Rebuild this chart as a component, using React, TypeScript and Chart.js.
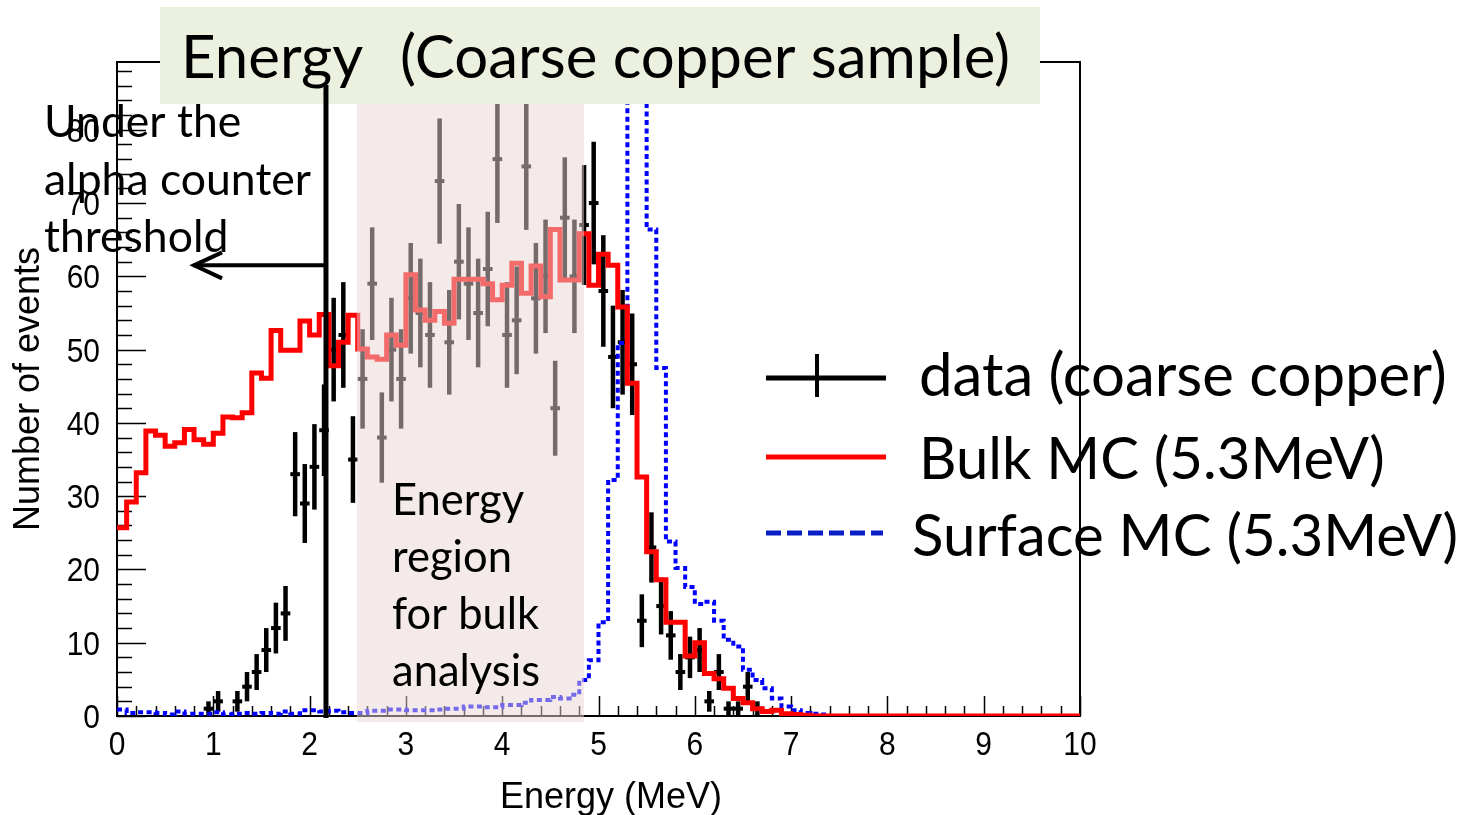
import { useEffect, useRef } from "react";
import { Chart, registerables } from "chart.js";

Chart.register(...registerables);

// ---- data -------------------------------------------------------------
const BIN_WIDTH = 0.1; // MeV
const X_MIN = 0;
const X_MAX = 10;
const Y_MAX = 89.25;

// Bulk MC (5.3 MeV), 100 bins of 0.1 MeV from 0 to 10 MeV
const bulkMC = [
  25.7, 29.2, 33.2, 38.9, 38.3, 36.8, 37.3, 39.1, 37.7, 37.1,
  38.6, 40.8, 40.7, 41.4, 46.8, 46.1, 52.6, 49.9, 49.9, 53.9,
  52.0, 54.8, 47.8, 51.0, 54.7, 50.1, 49.0, 48.7, 52.0, 50.6,
  60.2, 55.4, 54.0, 55.2, 53.6, 59.6, 59.6, 59.6, 59.0, 56.8,
  58.8, 61.8, 57.7, 61.4, 57.2, 66.4, 59.5, 59.5, 65.8, 58.8,
  63.0, 61.5, 55.8, 45.4, 32.6, 22.4, 18.6, 12.8, 12.8, 8.2,
  10.0, 5.8, 5.1, 3.8, 2.4, 1.8, 1.0, 0.6, 0.8, 0.3,
  0.2, 0.1, 0, 0, 0, 0, 0, 0, 0, 0,
  0, 0, 0, 0, 0, 0, 0, 0, 0, 0,
  0, 0, 0, 0, 0, 0, 0, 0, 0, 0,
];

// Surface MC (5.3 MeV), same binning
const surfaceMC = [
  0.9, 0.4, 0.5, 0.5, 0.4, 0.2, 0.6, 0.3, 0.3, 0.3,
  0.5, 0.2, 0.3, 0.4, 0.3, 0.4, 0.3, 0.6, 0.3, 0.8,
  0.8, 0.6, 0.7, 0.5, 0.4, 0.4, 0.7, 0.7, 0.9, 0.9,
  0.8, 0.8, 0.8, 0.9, 1.0, 1.0, 1.3, 1.3, 1.2, 1.2,
  1.5, 1.5, 1.8, 2.2, 2.2, 2.6, 2.4, 2.9, 4.9, 7.6,
  12.8, 32.2, 50.9, 135, 118, 66.4, 47.5, 23.8, 20.2, 17.6,
  15.3, 15.6, 13.0, 10.4, 9.5, 6.3, 4.9, 3.8, 2.4, 1.3,
  0.8, 0.4, 0.3, 0.2, 0, 0, 0, 0, 0, 0,
  0, 0, 0, 0, 0, 0, 0, 0, 0, 0,
  0, 0, 0, 0, 0, 0, 0, 0, 0, 0,
];

// Measured spectrum (coarse copper): bin centres and counts
const dataEnergy = [
  0.95, 1.05, 1.25, 1.35, 1.45, 1.55, 1.65, 1.75, 1.85, 1.95,
  2.05, 2.15, 2.25, 2.35, 2.45, 2.55, 2.65, 2.75, 2.85, 2.95,
  3.05, 3.15, 3.25, 3.35, 3.45, 3.55, 3.65, 3.75, 3.85, 3.95,
  4.05, 4.15, 4.25, 4.35, 4.45, 4.55, 4.65, 4.75, 4.85, 4.95,
  5.05, 5.15, 5.25, 5.35, 5.45, 5.55, 5.65, 5.75, 5.85, 5.95,
  6.05, 6.15, 6.25, 6.35, 6.45, 6.55, 6.65,
];
const dataCounts = [
  1, 2, 2, 4, 6, 9, 12, 14, 33, 29,
  34, 39, 50, 52, 35, 46, 59, 38, 50, 46,
  57, 55, 52, 73, 51, 62, 59, 55, 61, 76,
  52, 54, 75, 57, 60, 42, 68, 60, 67, 70,
  58, 49, 51, 48, 13, 23, 15, 11, 6, 8,
  9, 2, 6, 1, 1, 4, 1,
];

const xTickValues = [0, 1, 2, 3, 4, 5, 6, 7, 8, 9, 10];
const yTickValues = [0, 10, 20, 30, 40, 50, 60, 70, 80];

// Annotation values (MeV / counts)
const THRESHOLD_MEV = 2.17;
const ARROW_TIP_MEV = 0.79;
const ARROW_LEVEL = 61.5;
const BULK_REGION = [2.49, 4.85];

// ---- helpers ----------------------------------------------------------
const histPoints = (vals: number[]) => {
  const pts = vals.map((v, i) => ({ x: Math.round(i * BIN_WIDTH * 1000) / 1000, y: v }));
  pts.push({ x: X_MAX, y: vals[vals.length - 1] });
  return pts;
};

const CAL = "Lato, 'Open Sans', sans-serif";
const HELV = "'Liberation Sans', Arial, sans-serif";
const LABEL_STRETCH = 1.12;

function fitSize(ctx: CanvasRenderingContext2D, text: string, width: number) {
  ctx.font = `100px ${CAL}`;
  return (100 * width) / ctx.measureText(text).width;
}

function fitText(ctx: CanvasRenderingContext2D, text: string, x: number, y: number, width: number) {
  ctx.font = `${fitSize(ctx, text, width)}px ${CAL}`;
  ctx.fillText(text, x, y);
}

function seg(ctx: CanvasRenderingContext2D, x1: number, y1: number, x2: number, y2: number) {
  ctx.beginPath();
  ctx.moveTo(x1, y1);
  ctx.lineTo(x2, y2);
  ctx.stroke();
}

function stretchedText(ctx: CanvasRenderingContext2D, text: string, x: number, baseline: number) {
  ctx.save();
  ctx.translate(x, baseline);
  ctx.scale(1, LABEL_STRETCH);
  ctx.fillText(text, 0, 0);
  ctx.restore();
}

const decorations = {
  id: "decorations",
  beforeDatasetsDraw(chart: any) {
    const { ctx, chartArea: a, scales } = chart;
    const xs = scales.x;
    const ys = scales.y;
    ctx.save();
    ctx.strokeStyle = "#000";
    ctx.lineCap = "butt";

    // frame
    ctx.lineWidth = 2;
    ctx.strokeRect(a.left, a.top, a.right - a.left, a.bottom - a.top);

    // ticks drawn inside the frame
    ctx.lineWidth = 1.5;
    for (let v = 0; v <= Y_MAX; v += 2) {
      const py = Math.round(ys.getPixelForValue(v)) + 0.5;
      seg(ctx, a.left, py, a.left + (v % 10 === 0 ? 29 : 15), py);
    }
    for (let k = 0; k <= 50; k++) {
      const px = Math.round(xs.getPixelForValue(k * 0.2)) + 0.5;
      seg(ctx, px, a.bottom, px, a.bottom - (k % 5 === 0 ? 20 : 10));
    }

    // tick labels
    ctx.fillStyle = "#000";
    ctx.font = `30px ${HELV}`;
    ctx.textBaseline = "alphabetic";
    ctx.textAlign = "center";
    xTickValues.forEach((v) => stretchedText(ctx, String(v), xs.getPixelForValue(v), a.bottom + 39));
    ctx.textAlign = "right";
    yTickValues.forEach((v) => stretchedText(ctx, String(v), a.left - 17, ys.getPixelForValue(v) + 12));

    // data points with Poisson error bars
    ctx.save();
    ctx.beginPath();
    ctx.rect(a.left, a.top, a.right - a.left, a.bottom - a.top + 4);
    ctx.clip();
    ctx.lineWidth = 4.5;
    dataEnergy.forEach((e, i) => {
      const n = dataCounts[i];
      const err = Math.sqrt(n);
      const px = xs.getPixelForValue(e);
      seg(ctx, px, ys.getPixelForValue(n - err), px, ys.getPixelForValue(n + err));
      const py = ys.getPixelForValue(n);
      ctx.lineWidth = 4;
      seg(ctx, xs.getPixelForValue(e - BIN_WIDTH / 2), py, xs.getPixelForValue(e + BIN_WIDTH / 2), py);
      ctx.lineWidth = 4.5;
    });
    ctx.restore();

    // axis titles
    ctx.fillStyle = "#000";
    ctx.font = `36px ${HELV}`;
    ctx.textAlign = "center";
    ctx.textBaseline = "middle";
    ctx.save();
    ctx.translate(29, (a.top + a.bottom) / 2);
    ctx.rotate(-Math.PI / 2);
    ctx.fillText("Number of events", 0, 0);
    ctx.restore();
    ctx.textBaseline = "alphabetic";
    ctx.fillText("Energy (MeV)", 611, 808);
    ctx.restore();
  },
  afterDatasetsDraw(chart: any) {
    const { ctx, chartArea: a, scales } = chart;
    const xs = scales.x;
    const ys = scales.y;
    ctx.save();

    // shaded energy window for the bulk analysis
    const x0 = xs.getPixelForValue(BULK_REGION[0]);
    const x1 = xs.getPixelForValue(BULK_REGION[1]);
    ctx.fillStyle = "rgba(234, 214, 214, 0.5)";
    ctx.fillRect(x0, a.top + 30, x1 - x0, a.bottom + 6 - (a.top + 30));

    ctx.fillStyle = "#000";
    ctx.textAlign = "left";
    ctx.textBaseline = "alphabetic";

    // region note
    const s1 = fitSize(ctx, "analysis", 148);
    ctx.font = `${s1}px ${CAL}`;
    ["Energy", "region", "for bulk", "analysis"].forEach((t, i) => ctx.fillText(t, 392, 515 + i * 57));

    // threshold note
    const s2 = fitSize(ctx, "alpha counter", 267);
    ctx.font = `${s2}px ${CAL}`;
    ["Under the", "alpha counter", "threshold"].forEach((t, i) => ctx.fillText(t, 44, 137 + i * 57.5));

    // title box
    ctx.fillStyle = "#EBF1DE";
    ctx.fillRect(160, 7, 880, 97);
    ctx.fillStyle = "#000";
    const s3 = fitSize(ctx, "(Coarse copper sample)", 610);
    ctx.font = `${s3}px ${CAL}`;
    ctx.fillText("Energy", 181, 78);
    ctx.fillText("(Coarse copper sample)", 400, 78);

    // threshold line and arrow
    ctx.strokeStyle = "#000";
    ctx.lineWidth = 5;
    const tx = xs.getPixelForValue(THRESHOLD_MEV);
    seg(ctx, tx, 85, tx, a.bottom + 2);
    ctx.lineWidth = 4;
    const ay = ys.getPixelForValue(ARROW_LEVEL);
    const ax = xs.getPixelForValue(ARROW_TIP_MEV);
    seg(ctx, ax, ay, tx, ay);
    ctx.beginPath();
    ctx.moveTo(ax + 29, ay - 13);
    ctx.lineTo(ax + 1, ay);
    ctx.lineTo(ax + 29, ay + 13);
    ctx.stroke();

    // legend
    const lx0 = 766;
    const lx1 = 886;
    ctx.lineWidth = 5;
    ctx.strokeStyle = "#000";
    seg(ctx, lx0, 378, lx1, 378);
    ctx.lineWidth = 4;
    seg(ctx, 817, 354, 817, 397);
    ctx.lineWidth = 5;
    ctx.strokeStyle = "#ff0000";
    seg(ctx, lx0, 457, lx1, 457);
    ctx.strokeStyle = "#0a1ec8";
    ctx.setLineDash([15, 6]);
    seg(ctx, lx0, 533, lx1 - 3, 533);
    ctx.setLineDash([]);

    ctx.fillStyle = "#000";
    fitText(ctx, "data (coarse copper)", 919, 396, 528);
    fitText(ctx, "Bulk MC (5.3MeV)", 919, 479, 466);
    fitText(ctx, "Surface MC (5.3MeV)", 912, 556, 546);

    ctx.restore();
  },
};

export default function App() {
  const canvasRef = useRef<HTMLCanvasElement | null>(null);

  useEffect(() => {
    let chart: Chart | null = null;
    let cancelled = false;
    const build = () => {
      if (cancelled || !canvasRef.current) return;
      chart = new Chart(canvasRef.current, {
        type: "line",
        data: {
          datasets: [
            {
              label: "Bulk MC (5.3MeV)",
              data: histPoints(bulkMC),
              borderColor: "#ff0000",
              borderWidth: 5,
              stepped: true,
              pointRadius: 0,
              fill: false,
            },
            {
              label: "Surface MC (5.3MeV)",
              data: histPoints(surfaceMC),
              borderColor: "#0000ff",
              borderWidth: 4,
              borderDash: [5, 3.5],
              stepped: true,
              pointRadius: 0,
              fill: false,
            },
          ],
        },
        options: {
          responsive: false,
          devicePixelRatio: 1,
          animation: false,
          layout: { padding: { left: 0, top: 62, right: 388, bottom: 0 } },
          plugins: { legend: { display: false }, tooltip: { enabled: false }, title: { display: false } },
          scales: {
            x: {
              type: "linear",
              min: X_MIN,
              max: X_MAX,
              grid: { display: false, drawTicks: false },
              border: { display: false },
              afterBuildTicks: (s: any) => {
                s.ticks = xTickValues.map((v) => ({ value: v }));
              },
              afterFit: (s: any) => {
                s.height = 99;
              },
              ticks: { display: false },
            },
            y: {
              type: "linear",
              min: 0,
              max: Y_MAX,
              grid: { display: false, drawTicks: false },
              border: { display: false },
              afterBuildTicks: (s: any) => {
                s.ticks = yTickValues.map((v) => ({ value: v }));
              },
              afterFit: (s: any) => {
                s.width = 117;
              },
              ticks: { display: false },
            },
          },
        },
        plugins: [decorations],
      } as any);
    };
    const fonts = (document as any).fonts;
    if (fonts && fonts.load) {
      Promise.all([fonts.load(`48px Lato`), fonts.load(`30px 'Liberation Sans'`)])
        .catch(() => undefined)
        .then(build);
    } else {
      build();
    }
    return () => {
      cancelled = true;
      if (chart) chart.destroy();
    };
  }, []);

  return (
    <div style={{ position: "absolute", left: 0, top: 0, width: 1468, height: 815, background: "#fff" }}>
      <canvas ref={canvasRef} width={1468} height={815} style={{ display: "block" }} />
    </div>
  );
}
